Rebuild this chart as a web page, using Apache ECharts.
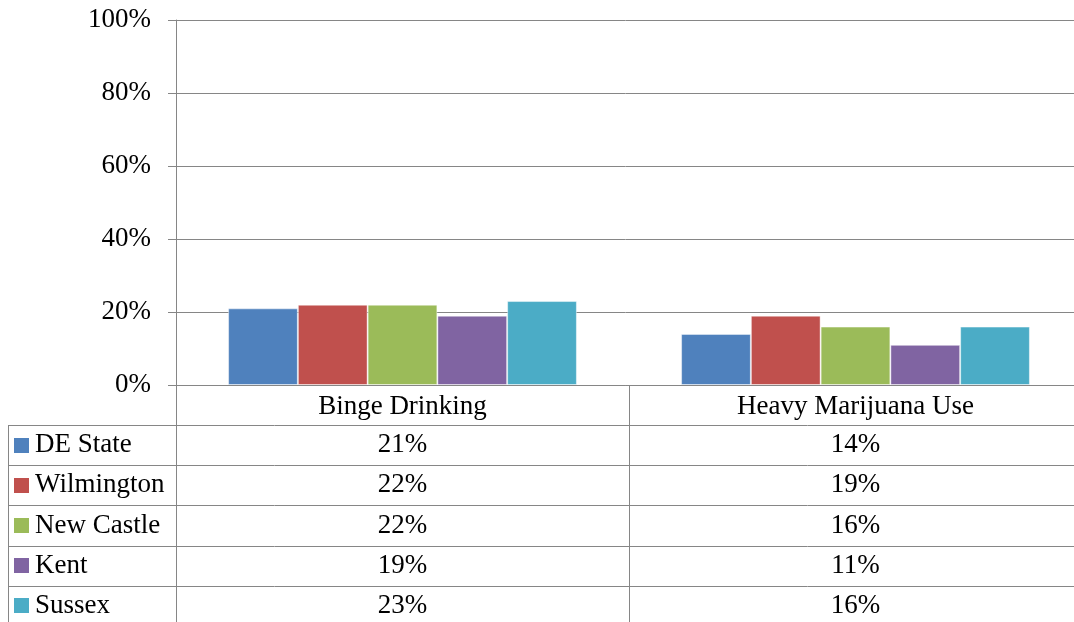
<!DOCTYPE html>
<html>
<head>
<meta charset="utf-8">
<script src="https://cdn.jsdelivr.net/npm/echarts@6/dist/echarts.min.js"></script>
<style>
  html, body { margin: 0; padding: 0; background: #fff; }
  #chart { width: 1074px; height: 622px; }
</style>
</head>
<body>
<div id="chart"></div>
<script>
  // data
  const categories = ['Binge Drinking', 'Heavy Marijuana Use'];
  const regions = ['DE State', 'Wilmington', 'New Castle', 'Kent', 'Sussex'];
  const deState = [21, 14];
  const wilmington = [22, 19];
  const newCastle = [22, 16];
  const kent = [19, 11];
  const sussex = [23, 16];
  const colors = ['#4F81BD', '#C0504D', '#9BBB59', '#8064A2', '#4BACC6'];

  const values = [deState, wilmington, newCastle, kent, sussex];

  const FONT = '"Liberation Serif", serif';
  const FS = 27;
  const LINE = '#868686';
  const plotTop = 20, plotBottom = 385, plotLeft = 176;
  const tableLeft = 8, rowTop = 425, rowH = 40.2;

  const chart = echarts.init(document.getElementById('chart'));

  chart.setOption({
    animation: false,
    textStyle: { fontFamily: FONT },
    // plot area runs a little past the right edge of the picture
    grid: {
      left: plotLeft, width: 906, top: plotTop, height: plotBottom - plotTop,
      outerBoundsMode: 'none'
    },
    xAxis: {
      type: 'category',
      data: categories,
      axisLine: { show: true, lineStyle: { color: LINE } },
      axisTick: { show: false },
      axisLabel: { fontSize: FS, color: '#000', margin: 8, fontFamily: FONT }
    },
    yAxis: {
      type: 'value',
      min: 0,
      max: 100,
      interval: 20,
      axisLine: { show: true, lineStyle: { color: LINE } },
      axisTick: { show: true, inside: false, length: 8, lineStyle: { color: LINE } },
      axisLabel: { formatter: '{value}%', fontSize: FS, color: '#000', margin: 25, fontFamily: FONT },
      splitLine: { show: true, lineStyle: { color: LINE } }
    },
    series: regions.map((name, i) => ({
      name: name,
      type: 'bar',
      data: values[i],
      barGap: '0%',
      barCategoryGap: '23%',
      itemStyle: { color: colors[i], borderColor: 'rgba(255,255,255,0.45)', borderWidth: 1 }
    }))
  });

  // data table under the plot, positioned from the axis scale
  const centers = categories.map((c, i) => chart.convertToPixel({ xAxisIndex: 0 }, i));
  const midX = Math.round((centers[0] + centers[1]) / 2) + 0.5;
  const W = chart.getWidth(), H = chart.getHeight();
  const graphics = [];
  const hLine = (y, x1) => graphics.push({
    type: 'line', shape: { x1: x1, y1: y, x2: W, y2: y },
    style: { stroke: LINE, lineWidth: 1 }, silent: true
  });
  const vLine = (x, y1) => graphics.push({
    type: 'line', shape: { x1: x, y1: y1, x2: x, y2: H },
    style: { stroke: LINE, lineWidth: 1 }, silent: true
  });

  vLine(plotLeft + 0.5, plotBottom);
  vLine(midX, plotBottom);
  vLine(tableLeft + 0.5, rowTop);
  regions.forEach((name, r) => {
    const y = Math.round(rowTop + r * rowH) + 0.5;
    hLine(y, tableLeft);
    const cy = rowTop + r * rowH + rowH / 2;
    graphics.push({
      type: 'rect', shape: { x: 14, y: Math.round(cy - 7.5), width: 15, height: 15 },
      style: { fill: colors[r] }, silent: true
    });
    graphics.push({
      type: 'text', x: 35, y: cy,
      style: { text: name, font: FS + 'px ' + FONT, fill: '#000', verticalAlign: 'middle', align: 'left' },
      silent: true
    });
    categories.forEach((c, ci) => {
      graphics.push({
        type: 'text', x: centers[ci], y: cy,
        style: { text: values[r][ci] + '%', font: FS + 'px ' + FONT, fill: '#000', verticalAlign: 'middle', align: 'center' },
        silent: true
      });
    });
  });

  chart.setOption({ graphic: graphics });
</script>
</body>
</html>
